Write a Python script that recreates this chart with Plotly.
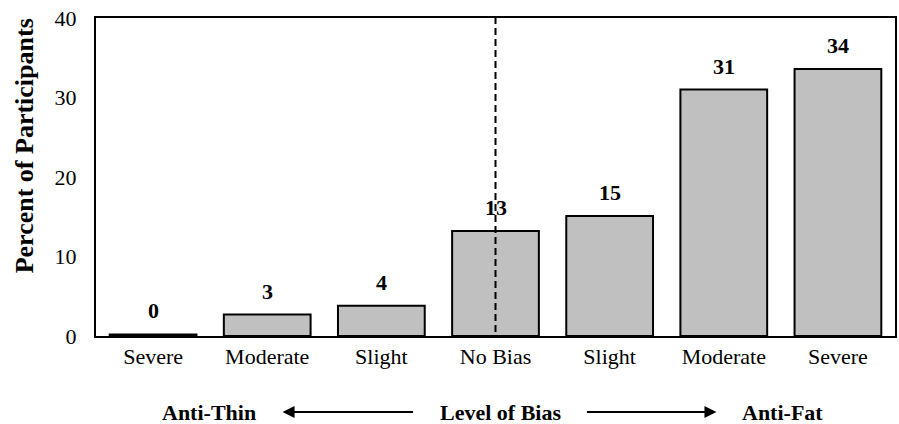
import plotly.graph_objects as go

categories = ["Severe", "Moderate", "Slight", "No Bias", "Slight", "Moderate", "Severe"]
percent = [0.2, 2.7, 3.8, 13.2, 15.1, 31.0, 33.6]
value_labels = ["0", "3", "4", "13", "15", "31", "34"]
y_ticks = [0, 10, 20, 30, 40]
no_bias_index = 3

FONT = "Liberation Serif, Times New Roman, serif"
xpos = list(range(len(categories)))

fig = go.Figure()
fig.add_trace(go.Bar(
    x=xpos, y=percent,
    marker=dict(color="#c0c0c0", line=dict(color="black", width=2)),
    hoverinfo="skip",
))

for xi, v, lab in zip(xpos, percent, value_labels):
    fig.add_annotation(x=xi, y=v, text=f"<b>{lab}</b>", showarrow=False,
                       yanchor="bottom", xanchor="center", yshift=9,
                       font=dict(family=FONT, size=22, color="black"))

# dashed divider at "No Bias"
fig.add_shape(type="line", xref="x", yref="y",
              x0=xpos[no_bias_index], x1=xpos[no_bias_index], y0=0.5, y1=40,
              line=dict(color="black", width=2, dash="7px,4px"))

# y-axis title (placed slightly above centre, as in the original)
fig.add_annotation(xref="paper", yref="paper", x=-0.0899, y=0.597, textangle=-90,
                   text="<b>Percent of Participants</b>", showarrow=False,
                   xanchor="center", yanchor="middle",
                   font=dict(family=FONT, size=26, color="black"))

# bottom direction annotations
ybot = -0.239
for xp, txt in [(0.142, "Anti-Thin"), (0.506, "Level of Bias"), (0.859, "Anti-Fat")]:
    fig.add_annotation(xref="paper", yref="paper", x=xp, y=ybot, text=f"<b>{txt}</b>",
                       showarrow=False, xanchor="center", yanchor="middle",
                       font=dict(family=FONT, size=22, color="black"))
fig.add_annotation(xref="paper", yref="paper", x=0.2335, y=ybot, text="",
                   showarrow=True, ax=132, ay=0, axref="pixel", ayref="pixel",
                   arrowhead=2, arrowsize=1.2, arrowwidth=2, arrowcolor="black")
fig.add_annotation(xref="paper", yref="paper", x=0.7765, y=ybot, text="",
                   showarrow=True, ax=-131, ay=0, axref="pixel", ayref="pixel",
                   arrowhead=2, arrowsize=1.2, arrowwidth=2, arrowcolor="black")

fig.update_layout(
    width=899, height=424,
    margin=dict(l=96, r=2, t=18, b=88),
    paper_bgcolor="white", plot_bgcolor="white",
    showlegend=False, bargap=0.24,
    font=dict(family=FONT, size=22, color="black"),
)
fig.update_xaxes(range=[-0.5, 6.5], tickmode="array", tickvals=xpos, ticktext=categories,
                 showline=True, linecolor="black", linewidth=2, mirror=True,
                 showgrid=False, zeroline=False, ticks="", ticklabelstandoff=0,
                 tickfont=dict(family=FONT, size=22, color="black"))
fig.update_yaxes(range=[0, 40], tickmode="array", tickvals=y_ticks,
                 showline=True, linecolor="black", linewidth=2, mirror=True,
                 showgrid=False, zeroline=False, ticks="", ticklabelstandoff=13,
                 ticklabeloverflow="allow",
                 tickfont=dict(family=FONT, size=22, color="black"))

fig.write_html("out.html", config={"displayModeBar": False},
               post_script="document.body.style.margin='0';document.body.style.padding='0';")
